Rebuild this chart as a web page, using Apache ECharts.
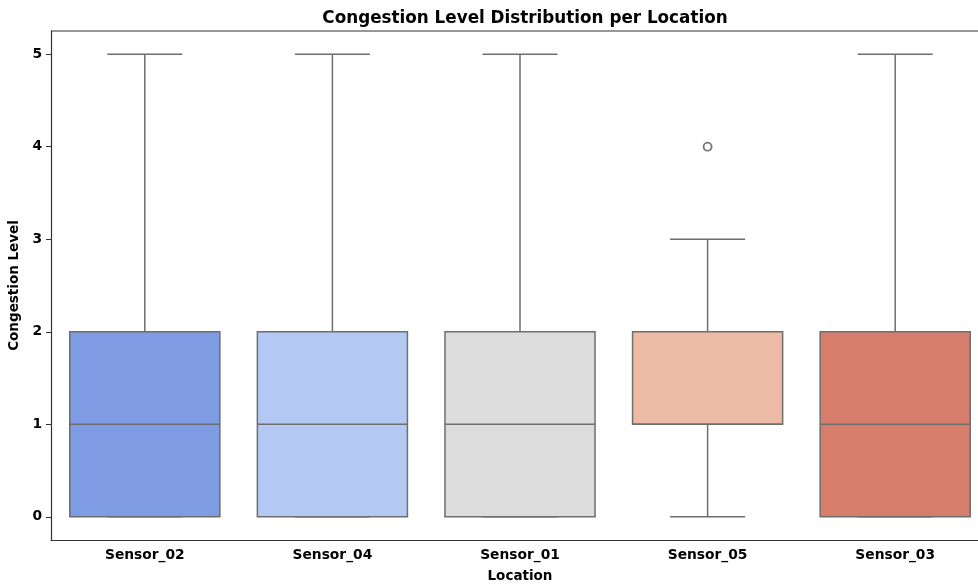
<!DOCTYPE html>
<html>
<head>
<meta charset="utf-8">
<script src="https://cdn.jsdelivr.net/npm/echarts@6/dist/echarts.min.js"></script>
<style>html,body{margin:0;padding:0;background:#fff;}#c{width:978px;height:584px;}</style>
</head>
<body>
<div id="c"></div>
<script>
const categories = ['Sensor_02', 'Sensor_04', 'Sensor_01', 'Sensor_05', 'Sensor_03'];
const lowerWhisker = [0, 0, 0, 0, 0];
const q1 = [0, 0, 0, 1, 0];
const median = [1, 1, 1, 1, 1];
const q3 = [2, 2, 2, 2, 2];
const upperWhisker = [5, 5, 5, 3, 5];
const outlierCategories = ['Sensor_05'];
const outlierValues = [4];
const boxColors = ['#7f9be3', '#b3c8f3', '#dcdcdc', '#edbba5', '#d67e6b'];
const yTicks = [0, 1, 2, 3, 4, 5];

const lineColor = '#6e6e6e';
const font = 'DejaVu Sans';

const boxData = categories.map((c, i) => [i, lowerWhisker[i], q1[i], median[i], q3[i], upperWhisker[i]]);
const outlierData = outlierCategories.map((c, i) => [categories.indexOf(c), outlierValues[i]]);

const chart = echarts.init(document.getElementById('c'));
chart.setOption({
  animation: false,
  backgroundColor: '#fff',
  title: {
    text: 'Congestion Level Distribution per Location',
    left: 520, top: 5, textAlign: 'center',
    textStyle: { fontFamily: font, fontWeight: 'bold', fontSize: 16.8, color: '#000' }
  },
  grid: { left: 51, right: -11, top: 31, bottom: 44, containLabel: false, outerBoundsMode: 'none' },
  xAxis: {
    type: 'category',
    data: categories,
    name: 'Location',
    nameLocation: 'middle',
    nameGap: 29,
    nameTextStyle: { fontFamily: font, fontWeight: 'bold', fontSize: 13.5, color: '#000' },
    axisLine: { onZero: false, lineStyle: { color: '#333', width: 1.2 } },
    axisTick: { alignWithLabel: true, length: 5, lineStyle: { color: '#333' } },
    axisLabel: { fontFamily: font, fontWeight: 'bold', fontSize: 13.8, color: '#000', margin: 8 },
    splitLine: { show: false }
  },
  yAxis: {
    type: 'value',
    min: -0.25, max: 5.25,
    name: 'Congestion Level',
    nameLocation: 'middle',
    nameGap: 25,
    nameRotate: 90,
    nameTextStyle: { fontFamily: font, fontWeight: 'bold', fontSize: 13.5, color: '#000' },
    axisLine: { show: true, lineStyle: { color: '#333', width: 1.2 } },
    axisTick: { show: true, length: 5, lineStyle: { color: '#333' }, customValues: yTicks },
    axisLabel: { fontFamily: font, fontWeight: 'bold', fontSize: 13.8, color: '#000', margin: 9, customValues: yTicks },
    splitLine: { show: false }
  },
  graphic: [{
    type: 'line', shape: { x1: 51, y1: 31, x2: 978, y2: 31 },
    style: { stroke: '#333', lineWidth: 1.2 }, z: 10
  }],
  series: [{
    type: 'custom',
    data: boxData,
    encode: { x: 0, y: [1, 2, 3, 4, 5] },
    renderItem: function (params, api) {
      const idx = api.value(0);
      const band = api.size([1, 0])[0];
      const boxW = band * 0.8;
      const capW = boxW / 2;
      const pLow = api.coord([idx, api.value(1)]);
      const pQ1 = api.coord([idx, api.value(2)]);
      const pMed = api.coord([idx, api.value(3)]);
      const pQ3 = api.coord([idx, api.value(4)]);
      const pHigh = api.coord([idx, api.value(5)]);
      const cx = pMed[0];
      const ls = { stroke: lineColor, lineWidth: 1.5 };
      return {
        type: 'group',
        children: [
          { type: 'line', shape: { x1: cx, y1: pQ3[1], x2: cx, y2: pHigh[1] }, style: ls },
          { type: 'line', shape: { x1: cx, y1: pLow[1], x2: cx, y2: pQ1[1] }, style: ls },
          { type: 'line', shape: { x1: cx - capW / 2, y1: pHigh[1], x2: cx + capW / 2, y2: pHigh[1] }, style: ls },
          { type: 'line', shape: { x1: cx - capW / 2, y1: pLow[1], x2: cx + capW / 2, y2: pLow[1] }, style: ls },
          { type: 'rect', shape: { x: cx - boxW / 2, y: pQ3[1], width: boxW, height: pQ1[1] - pQ3[1] },
            style: { fill: boxColors[idx], stroke: lineColor, lineWidth: 1.5 } },
          { type: 'line', shape: { x1: cx - boxW / 2, y1: pMed[1], x2: cx + boxW / 2, y2: pMed[1] }, style: ls }
        ]
      };
    }
  }, {
    type: 'scatter',
    data: outlierData,
    symbol: 'circle',
    symbolSize: 8,
    itemStyle: { color: '#fff', borderColor: '#555', borderWidth: 1.8 },
    z: 5
  }]
});
</script>
</body>
</html>
